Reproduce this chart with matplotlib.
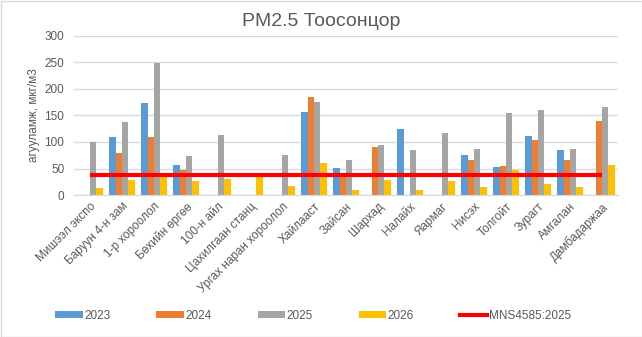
import numpy as np
import matplotlib
matplotlib.use("Agg")
import matplotlib.pyplot as plt
from matplotlib.patches import Rectangle
from matplotlib.lines import Line2D

plt.rcParams['font.family'] = ['Liberation Sans', 'DejaVu Sans']

categories = ["Мишээл экспо", "Баруун 4-н зам", "1-р хороолол", "Бөхийн өргөө", "100-н айл",
              "Цахилгаан станц", "Ургах наран хороолол", "Хайлааст", "Зайсан", "Шархад",
              "Налайх", "Яармаг", "Нисэх", "Толгойт", "Зурагт", "Амгалан", "Дамбадаржаа"]
nan = np.nan
v2023 = [nan, 110, 174, 57, nan, nan, nan, 157, 51, nan, 124, nan, 75, 53, 111, 85, nan]
v2024 = [nan, 79, 109, 48, nan, nan, nan, 185, 41, 91, nan, nan, 66, 55, 104, 66, 140]
v2025 = [100, 138, 249, 74, 113, nan, 75, 175, 66, 94, 85, 117, 87, 155, 160, 87, 166]
v2026 = [13, 28, 35, 26, 30, 41, 17, 60, 9, 28, 9, 26, 15, 47, 21, 15, 57]
standard = 37
series_names = ["2023", "2024", "2025", "2026"]
standard_name = "MNS4585:2025"
colors = ["#5b9bd5", "#ed7d31", "#a5a5a5", "#ffc000"]

fs = 8.5
fig = plt.figure(figsize=(6.42, 3.37), dpi=100)
ax = fig.add_axes([74/642, 1-195/337, (618-74)/642, (195-36)/337])

x = np.arange(len(categories))
w = 0.2
handles = []
for i, (vals, c, name) in enumerate(zip([v2023, v2024, v2025, v2026], colors, series_names)):
    b = ax.bar(x + (i - 1.5) * w, vals, width=w, color=c, label=name, zorder=2)
    handles.append(b)
ax.plot([x[0], x[-1]], [standard, standard], color="#ff0000", lw=3, zorder=3,
        solid_capstyle='butt', label=standard_name)

ax.set_xlim(-0.5, len(categories) - 0.5)
ax.set_ylim(0, 300)
ax.set_yticks(np.arange(0, 301, 50))
ax.grid(axis='y', color="#d9d9d9", lw=1, zorder=0)
for s in ['top', 'right', 'left']:
    ax.spines[s].set_visible(False)
ax.spines['bottom'].set_color("#d9d9d9")
ax.tick_params(axis='both', length=0, colors="#595959", labelsize=fs)
ax.tick_params(axis='y', pad=7)
ax.tick_params(axis='x', pad=4)
ax.set_xticks(x)
ax.set_xticklabels(categories, rotation=45, ha='right', rotation_mode='anchor', fontsize=fs, color="#595959")
ax.set_ylabel("агууламж, мкг/м3", fontsize=fs, color="#595959", labelpad=3)

fig.text(0.5, 1-22/337, "PM2.5 Тоосонцор", ha='center', va='center', fontsize=14, color="#595959")

leg = fig.legend(handles=handles + [Line2D([0], [0], color="#ff0000", lw=3)],
                 labels=series_names + [standard_name],
                 loc='center', bbox_to_anchor=(0.488, 1-316/337), ncol=5, frameon=False,
                 fontsize=fs, handlelength=2.3, handleheight=0.5, handletextpad=0.15,
                 columnspacing=3.9, labelcolor="#595959")

fig.patches.append(Rectangle((0.5/642, 0.5/337), 1-1/642, 1-1/337, transform=fig.transFigure,
                             fill=False, edgecolor="#d9d9d9", lw=1))
fig.savefig("out.png", dpi=100)
